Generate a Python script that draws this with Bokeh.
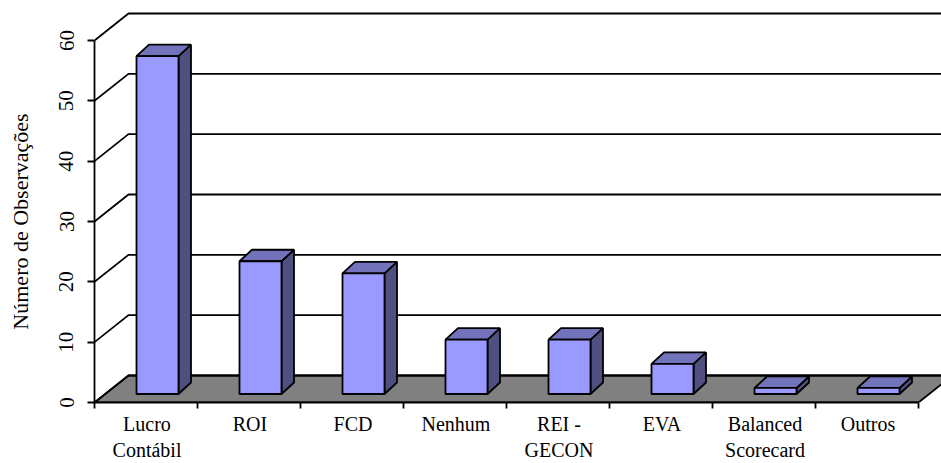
import numpy as np
from bokeh.embed import file_html
from bokeh.resources import INLINE
from bokeh.plotting import figure
from bokeh.models import FixedTicker, LinearAxis, Range1d

line_1 = ["Lucro", "ROI", "FCD", "Nenhum", "REI -", "EVA", "Balanced", "Outros"]
line_2 = ["Contábil", "", "", "", "GECON", "", "Scorecard", ""]
values = [56, 22, 20, 9, 9, 5, 1, 1]
y_ticks = [0, 10, 20, 30, 40, 50, 60]
y_title = "Número de Observações"

PX_X = 103.0      # pixels per category
PX_Y = 362 / 60   # pixels per unit
FRAME_W, FRAME_H = 847, 402
FONT = "Liberation Serif"
FS = "20px"
n = len(values)
v = np.array(values, dtype=float)

p = figure(width=941, height=463, output_backend="svg", toolbar_location=None,
           x_range=Range1d(0, FRAME_W / PX_X), y_range=Range1d(0, FRAME_H / PX_Y),
           min_border_left=94, min_border_right=0, min_border_top=0, min_border_bottom=61,
           outline_line_color=None, background_fill_color="white")
p.grid.visible = False

# 3D depth of the chart box and of the bars, in data units
DX, DY = 34 / PX_X, 27 / PX_Y
BDX, BDY = 12.5 / PX_X, 11.5 / PX_Y
BASE = 8.5 / PX_Y
LEFT = 42 / PX_X
WIDTH = 42 / PX_X
LW = 1.8

# floor
p.patch([0, n, n + DX, DX], [0, 0, DY, DY], fill_color="#808080", line_color="black", line_width=LW)

# gridlines: diagonal on the left wall + line along the back wall
gx = [[0, DX, FRAME_W / PX_X + 1] for _ in y_ticks]
gy = [[t, t + DY, t + DY] for t in y_ticks]
p.multi_line(gx, gy, line_color="black", line_width=LW)

# bars
l = np.arange(n) + LEFT
r = l + WIDTH
b = np.full(n, BASE)
t = BASE + v
side_x = [[r[i], r[i] + BDX, r[i] + BDX, r[i]] for i in range(n)]
side_y = [[b[i], b[i] + BDY, t[i] + BDY, t[i]] for i in range(n)]
top_x = [[l[i], l[i] + BDX, r[i] + BDX, r[i]] for i in range(n)]
top_y = [[t[i], t[i] + BDY, t[i] + BDY, t[i]] for i in range(n)]
p.patches(side_x, side_y, fill_color="#4F4F80", line_color="black", line_width=LW)
p.patches(top_x, top_y, fill_color="#7373BC", line_color="black", line_width=LW)
p.quad(left=l, right=r, bottom=b, top=t, fill_color="#9999FF", line_color="black", line_width=LW)

# axes
ya = p.yaxis[0]
ya.ticker = FixedTicker(ticks=y_ticks)
ya.bounds = (0, 60)
ya.major_label_orientation = "vertical"
ya.major_label_text_font = FONT
ya.major_label_text_font_size = "21px"
ya.major_label_text_color = "black"
ya.major_label_standoff = 14
ya.major_tick_out = 7
ya.major_tick_in = 0
ya.minor_tick_line_color = None
ya.axis_line_width = LW
ya.major_tick_line_width = LW

# axis title: a label-only axis so that it is centred on the 0-60 scale
mid = (y_ticks[0] + y_ticks[-1]) / 2
ta = LinearAxis(ticker=FixedTicker(ticks=[mid]), major_label_overrides={mid: y_title},
                axis_line_color=None, major_tick_line_color=None, minor_tick_line_color=None,
                major_tick_out=0, major_tick_in=0, major_label_standoff=24,
                major_label_orientation="vertical", major_label_text_font=FONT,
                major_label_text_font_size="22px", major_label_text_color="black")
p.add_layout(ta, "left")

xa = p.xaxis[0]
xa.ticker = FixedTicker(ticks=list(range(n + 1)))
xa.bounds = (0, n)
xa.major_label_overrides = {i: "" for i in range(n + 1)}
xa.major_label_standoff = 0
xa.major_tick_out = 6
xa.major_tick_in = 0
xa.minor_tick_line_color = None
xa.axis_line_width = LW
xa.major_tick_line_width = LW

# category labels: two label-only axes stacked under the frame
cx = (np.arange(n) + 0.5 + 1 / PX_X).tolist()
for lines, standoff in ((line_1, 4), (line_2, 1)):
    ax = LinearAxis(ticker=FixedTicker(ticks=cx),
                    major_label_overrides={c: s for c, s in zip(cx, lines)},
                    axis_line_color=None, major_tick_line_color=None,
                    minor_tick_line_color=None, major_tick_out=0, major_tick_in=0,
                    major_label_standoff=standoff, major_label_text_font=FONT,
                    major_label_text_font_size=FS, major_label_text_color="black")
    p.add_layout(ax, "below")

open("out.html", "w").write(file_html(p, INLINE))
